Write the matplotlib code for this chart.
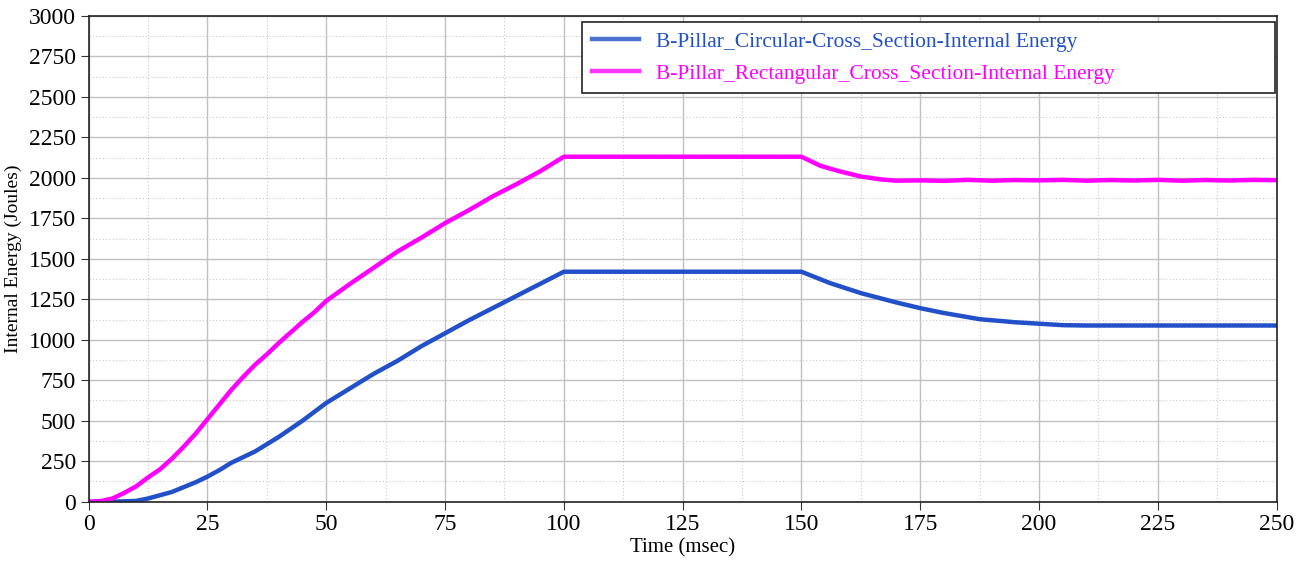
import matplotlib.pyplot as plt
from matplotlib.ticker import MultipleLocator

plt.rcParams['font.family'] = ['Liberation Serif', 'DejaVu Serif']

# datos (tiempo en msec, energia en Joules)
t_circ = [0, 5, 10, 12.5, 15, 17.5, 20, 22.5, 25, 27.5, 30, 35, 40, 45, 50, 55, 60, 65, 70,
          75, 80, 85, 90, 95, 100, 150, 156, 162.5, 170, 175, 180, 187.5, 195, 200, 205, 210, 250]
e_circ = [0, 0, 5, 20, 40, 60, 90, 120, 155, 195, 240, 310, 400, 500, 610, 700, 790, 870, 960,
          1040, 1120, 1195, 1270, 1345, 1420, 1420, 1350, 1288, 1230, 1195, 1165, 1127, 1108, 1099, 1090, 1088, 1088]

t_rect = [0, 2.5, 5, 7.5, 10, 12.5, 15, 17.5, 20, 22.5, 25, 27.5, 30, 32.5, 35, 37.5, 40, 42.5, 45,
          47.5, 50, 55, 60, 65, 70, 75, 80, 85, 90, 95, 100, 150, 154, 158, 162.5, 166.7, 170,
          175, 180, 185, 190, 195, 200, 205, 210, 215, 220, 225, 230, 235, 240, 245, 250]
e_rect = [0, 3, 20, 55, 95, 150, 200, 265, 340, 420, 510, 600, 690, 770, 845, 910, 980, 1045, 1110,
          1170, 1240, 1345, 1445, 1545, 1630, 1720, 1800, 1885, 1960, 2040, 2130, 2130, 2074, 2040, 2008, 1990, 1982,
          1984, 1981, 1987, 1982, 1986, 1984, 1987, 1982, 1986, 1983, 1987, 1982, 1986, 1983, 1987, 1985]

label_circ = 'B-Pillar_Circular-Cross_Section-Internal Energy'
label_rect = 'B-Pillar_Rectangular_Cross_Section-Internal Energy'

fig, ax = plt.subplots(figsize=(13.04, 5.65), dpi=100)
fig.subplots_adjust(left=0.068, right=0.979, top=0.972, bottom=0.112)

ax.plot(t_circ, e_circ, color='#2150c8', lw=3.2)
ax.plot(t_rect, e_rect, color='#ff00ff', lw=3.2)

ax.set_xlim(0, 250)
ax.set_ylim(0, 3000)
ax.xaxis.set_major_locator(MultipleLocator(25))
ax.xaxis.set_minor_locator(MultipleLocator(12.5))
ax.yaxis.set_major_locator(MultipleLocator(250))
ax.yaxis.set_minor_locator(MultipleLocator(125))
ax.grid(which='major', color='#c0c0c0', lw=1.0)
ax.grid(which='minor', color='#c8c8c8', lw=0.8, ls=(0, (1, 2)))
ax.set_axisbelow(True)
ax.tick_params(which='minor', length=0)
ax.tick_params(which='major', length=6, labelsize=17, direction='out', color='#333333', pad=3)
for s in ax.spines.values():
    s.set_color('#222222')
    s.set_linewidth(1.2)

ax.set_xlabel('Time (msec)', fontsize=15, labelpad=2)
ax.set_ylabel('Internal Energy (Joules)', fontsize=14, labelpad=5)

# leyenda ancha con el texto pegado a la izquierda
h1, = ax.plot([], [], color='#4a72d0', lw=3.2)
h2, = ax.plot([], [], color='#ff33ff', lw=3.2)
leg = ax.legend([h1, h2], [label_circ, label_rect], loc='upper left', fontsize=15.5,
                frameon=True, fancybox=False, edgecolor='#222222', framealpha=1,
                mode='expand', borderaxespad=0, handlelength=2.2, labelspacing=0.55,
                borderpad=0.45, bbox_to_anchor=(0.4153, 0.8395, 0.583, 0.148))
leg.get_frame().set_linewidth(1.2)
for txt, c in zip(leg.get_texts(), ['#2150c8', '#ff00ff']):
    txt.set_color(c)

plt.savefig('out.png', dpi=100)
